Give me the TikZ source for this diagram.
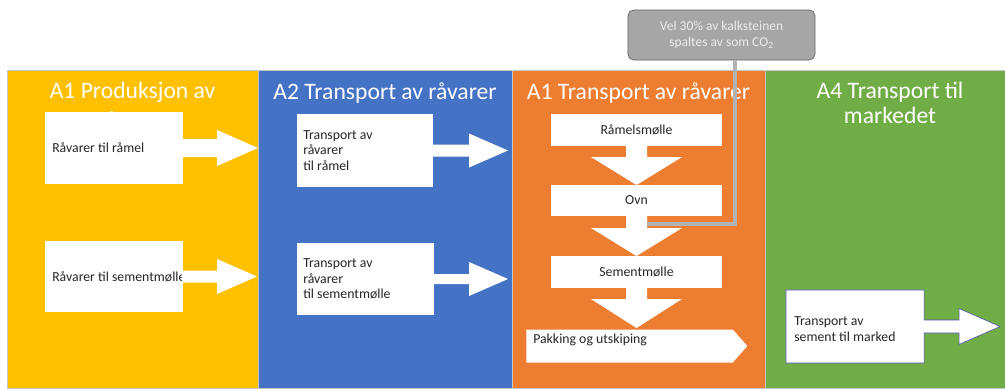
\documentclass[tikz,border=0pt]{standalone}
\usepackage{fontspec}
\setmainfont{Carlito}
\usetikzlibrary{positioning,calc,shapes.symbols}
\definecolor{yel}{HTML}{FFC000}
\definecolor{blu}{HTML}{4472C4}
\definecolor{ora}{HTML}{ED7D31}
\definecolor{gre}{HTML}{70AD47}
\definecolor{gry}{HTML}{A6A6A6}
\tikzstyle{col}=[rectangle, draw=gray!45, line width=0.4pt, inner sep=0pt, outer sep=0pt,
        minimum height=7.95cm, anchor=north west]
\tikzstyle{title}=[text=white, font=\fontsize{16.8}{17.5}\selectfont, align=center, anchor=north, inner sep=0pt]
\tikzstyle{box}=[rectangle, fill=white, inner sep=0pt, outer sep=0pt]
\tikzstyle{txt}=[text=black!85, font=\fontsize{9.8}{10.8}\selectfont, align=left, inner sep=0pt]
\tikzstyle{arw}=[fill=white]
\tikzstyle{callout}=[rectangle, rounded corners=4pt, fill=gry, draw=gray!80!black, line width=0.5pt,
        text=white!92!black, font=\fontsize{9.6}{11.5}\selectfont, align=center,
        minimum width=4.675cm, minimum height=1.25cm]
\tikzstyle{conn}=[draw=gray!75!black, line width=0.5pt, double=gray!60, double distance=2.2pt]

\begin{document}
\begin{tikzpicture}[x=0.025cm, y=-0.025cm]
\useasboundingbox[fill=white] (0,0) rectangle (1005,388);
% columns
\node[col, fill=yel, minimum width=6.275cm] (c1) at (7,70) {};
\node[col, fill=blu, minimum width=6.35cm] (c2) at (258,70) {};
\node[col, fill=ora, minimum width=6.325cm] (c3) at (512,70) {};
\node[col, fill=gre, minimum width=6cm] (c4) at (765,70) {};
\node[title] (t1) at ($(c1.north)+(0,12)$) {A1 Produksjon av\\[4pt]råvarer};
\node[title] (t2) at ($(c2.north)+(0,12)$) {A2 Transport av råvarer};
\node[title] (t3) at ($(c3.north)+(0,12)$) {A1 Transport av råvarer};
\node[title] (t4) at ($(c4.north)+(5,12)$) {A4 Transport til\\markedet};
% A1 produksjon
\node[box, minimum width=3.45cm, minimum height=1.78cm] (y1) at (114,148) {};
\node[txt, right=0.175cm of y1.west] {Råvarer til råmel};
\fill[arw] ($(y1.east)+(-1,-9)$) -- ++(35,0) -- ++(0,-9) -- ++(41,18) -- ++(-41,18) -- ++(0,-9) -- ++(-35,0) -- cycle;
\node[box, minimum width=3.45cm, minimum height=1.78cm] (y2) at (114,276.5) {};
\node[txt, right=0.175cm of y2.west] {Råvarer til sementmølle};
\fill[arw] ($(y2.east)+(-1,-6)$) -- ++(35,0) -- ++(0,-11.5) -- ++(40,17.5) -- ++(-40,17.5) -- ++(0,-11.5) -- ++(-35,0) -- cycle;
% A2 transport
\node[box, minimum width=3.4cm, minimum height=1.825cm] (b1) at (365,150.5) {};
\node[txt, right=0.15cm of b1.west] {Transport av\\råvarer\\til råmel};
\fill[arw] ($(b1.east)+(-1,-6)$) -- ++(37,0) -- ++(0,-11) -- ++(39,17) -- ++(-39,17) -- ++(0,-11) -- ++(-37,0) -- cycle;
\node[box, minimum width=3.425cm, minimum height=1.8cm] (b2) at (365.5,279) {};
\node[txt, right=0.15cm of b2.west] {Transport av\\råvarer\\til sementmølle};
\fill[arw] ($(b2.east)+(-1,-5)$) -- ++(36,0) -- ++(0,-12) -- ++(39,17) -- ++(-39,17) -- ++(0,-12) -- ++(-36,0) -- cycle;
% A1 transport (fabrikk)
\node[box, minimum width=4.275cm, minimum height=0.8cm, font=\fontsize{9.8}{10.8}\selectfont, text=black!85] (r1) at (636.5,130) {Råmelsmølle};
\node[box, minimum width=4.275cm, minimum height=0.775cm, font=\fontsize{9.8}{10.8}\selectfont, text=black!85] (ovn) at (636.5,200.5) {Ovn};
\node[box, minimum width=4.275cm, minimum height=0.8cm, font=\fontsize{9.8}{10.8}\selectfont, text=black!85] (sm) at (636.5,272) {Sementmølle};
\node[signal, signal to=east, signal pointer angle=97, fill=white, inner sep=0pt, anchor=west,
      minimum width=5.525cm, minimum height=0.825cm] (pak) at (526,346) {};
\node[txt, anchor=west] at ($(pak.west)+(7,-6)$) {Pakking og utskiping};
\fill[arw] ($(r1.south)+(-10.5,-1)$) -- ++(0,12) -- ++(-35,0) -- ++(45.5,28) -- ++(45.5,-28) -- ++(-35,0) -- ++(0,-12) -- cycle;
\fill[arw] ($(ovn.south)+(-10.5,-1)$) -- ++(0,13) -- ++(-35,0) -- ++(45.5,28) -- ++(45.5,-28) -- ++(-35,0) -- ++(0,-13) -- cycle;
\fill[arw] ($(sm.south)+(-10.5,-1)$) -- ++(0,12) -- ++(-35,0) -- ++(45.5,29) -- ++(45.5,-29) -- ++(-35,0) -- ++(0,-12) -- cycle;
% A4 marked
\node[box, minimum width=3.45cm, minimum height=1.825cm] (g1) at (855,326.5) {};
\draw[fill=white, draw=blue!40!gray, line width=0.4pt] (g1.north west) -- (g1.north east) -- ($(g1.east)+(0,-6.5)$) -- ++(35,0) -- ++(0,-11.5) -- ++(41,18) -- ++(-41,18) -- ++(0,-11.5) -- ++(-35,0) -- (g1.south east) -- (g1.south west) -- cycle;
\node[txt, right=0.2cm of g1.west, yshift=-2pt, font=\fontsize{9.8}{11.4}\selectfont] {Transport av\\sement til marked};
% CO2
\node[callout] (co2) at (721.5,35) {Vel 30\% av kalksteinen\\spaltes av som CO\textsubscript{2}};
\coordinate (cend) at ($(ovn.south)+(10.5,8)$);
\draw[conn] ($(co2.south)+(13.5,0)$) |- (cend);
\end{tikzpicture}
\end{document}
